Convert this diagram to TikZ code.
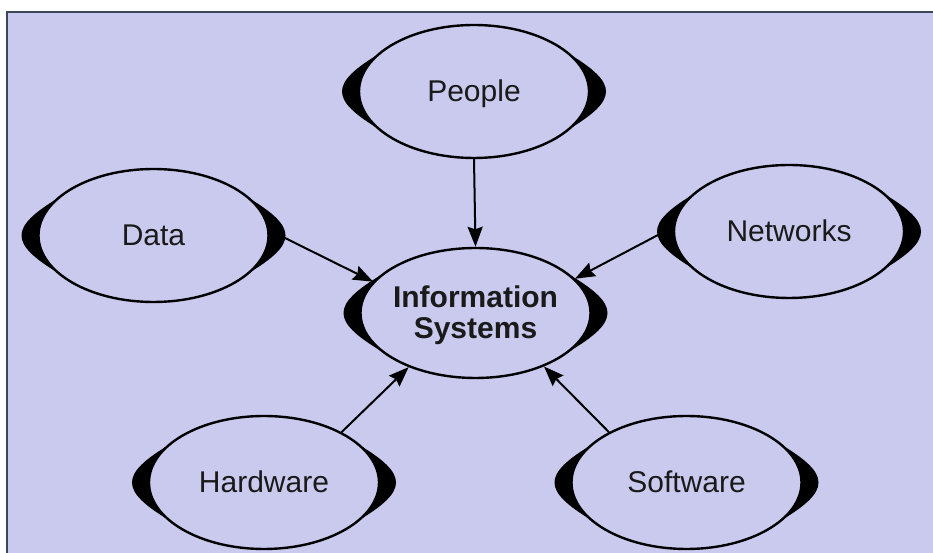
\documentclass[tikz,border=0pt]{standalone}
\usepackage{fontspec}
\setmainfont{Liberation Sans}
\usetikzlibrary{shapes.geometric,arrows.meta}
\definecolor{bg}{HTML}{C9CAEE}
\definecolor{framecol}{HTML}{3C4858}
\definecolor{txt}{HTML}{1A1A1A}
\tikzset{
  oval/.style={ellipse, draw=black, line width=2.4pt, minimum width=230pt, minimum height=133pt, inner sep=0pt},
  lbl/.style={font=\fontsize{30}{33}\selectfont, text=txt, inner sep=0pt, text height=21pt, text depth=0pt},
  islbl/.style={font=\bfseries\fontsize{30}{31}\selectfont, text=txt, inner sep=0pt, align=center},
  conn/.style={line width=2pt, draw=black, -{Stealth[length=20pt,width=15pt,inset=2.5pt]}}
}
\newcommand\crescentpair[1]{%
  \fill[black, shift={(#1.center)}] (-94.2,38.1) .. controls (-144.6,8) and (-144.6,-8) .. (-94.2,-38.1)
     arc[start angle=215,end angle=145,x radius=115,y radius=66.5] -- cycle;
  \fill[black, shift={(#1.center)}] (94.2,38.1) .. controls (144.6,8) and (144.6,-8) .. (94.2,-38.1)
     arc[start angle=-35,end angle=35,x radius=115,y radius=66.5] -- cycle;
}
\begin{document}
\begin{tikzpicture}[x=1pt,y=1pt]
  \useasboundingbox (0,0) rectangle (933,553);
  \fill[white] (0,0) rectangle (933,553);
  \fill[bg] (7,0) rectangle (933,541);
  \draw[framecol, line width=1.5pt] (7,0) -- (7,541) -- (933,541);

  \node[oval, label={[lbl]center:People}] (People) at (474,461.5) {};
  \node[oval, label={[lbl]center:Data}] (Data) at (153.5,317.5) {};
  \node[oval, label={[lbl]center:Networks}] (Networks) at (789,321.5) {};
  \node[oval, minimum height=130pt, label={[islbl, yshift=-2pt]center:Information\\Systems}] (IS) at (475.5,240) {};
  \node[oval, label={[lbl]center:Hardware}] (Hardware) at (264,70.5) {};
  \node[oval, label={[lbl]center:Software}] (Software) at (686.5,70.5) {};

  \crescentpair{People}
  \crescentpair{Data}
  \crescentpair{Networks}
  \crescentpair{IS}
  \crescentpair{Hardware}
  \crescentpair{Software}

  \path (Data.center) ++(131.5,-2.5) coordinate (Data-r);
  \path (Networks.center) ++(-131,-3.5) coordinate (Networks-l);

  \draw[conn] (People.south) -- (IS.north);
  \draw[conn] (Data-r) -- (IS.163);
  \draw[conn] (Networks-l) -- (IS.19);
  \draw[conn] (Hardware.33) -- (IS.219);
  \draw[conn] (Software.147) -- (IS.-38);
\end{tikzpicture}
\end{document}
